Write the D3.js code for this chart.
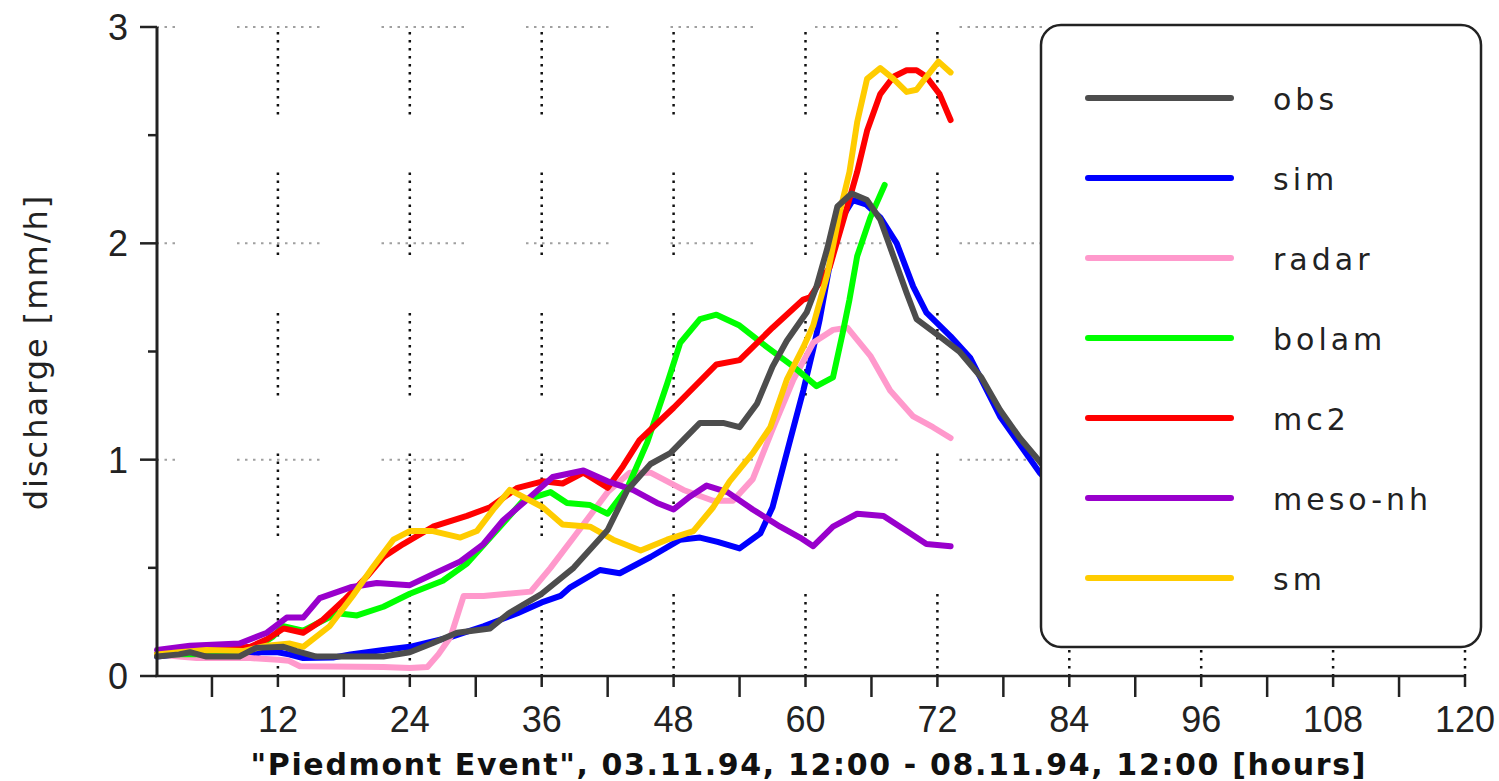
<!DOCTYPE html>
<html>
<head>
<meta charset="utf-8">
<script src="https://cdn.jsdelivr.net/npm/d3@7"></script>
<style>
  body { margin: 0; background: #fff; }
  svg { display: block; }
</style>
</head>
<body>
<div id="chart"></div>
<script>
// series: [hour, discharge mm/h]
const obs = [[1,0.09],[3,0.10],[4,0.11],[5.5,0.09],[8.5,0.09],[10,0.13],[12.5,0.135],[13.7,0.115],[15.5,0.09],[21.6,0.09],[24,0.11],[26,0.15],[28.3,0.2],[31.3,0.22],[33,0.29],[36,0.38],[38.9,0.5],[42,0.675],[43.8,0.86],[45.9,0.98],[47.7,1.03],[50.4,1.17],[52.5,1.17],[54,1.15],[55.6,1.26],[57,1.43],[58.3,1.55],[60.1,1.68],[61,1.8],[62,1.98],[62.9,2.17],[64.2,2.23],[65.6,2.2],[66.8,2.11],[68,1.94],[69.2,1.77],[70.1,1.65],[72.2,1.57],[74,1.5],[76,1.38],[77.7,1.23],[79.5,1.1],[81,1.01],[82,0.95],[84,0.85]]
const sim = [[1,0.09],[3,0.1],[5,0.09],[9,0.09],[10.5,0.11],[12,0.11],[13,0.1],[14.3,0.083],[17,0.085],[18.6,0.1],[21.6,0.12],[24,0.135],[27.7,0.18],[30.7,0.23],[33.8,0.29],[36,0.34],[37.7,0.37],[38.6,0.41],[41.3,0.49],[43.1,0.475],[45.9,0.55],[48.6,0.63],[50.4,0.64],[52,0.62],[54,0.59],[55.9,0.66],[57,0.78],[58.6,1.09],[59.8,1.32],[60.7,1.51],[61.3,1.65],[62.2,1.9],[63.1,2.1],[64.3,2.2],[65.5,2.18],[66.8,2.12],[68.3,2.0],[69.8,1.8],[71,1.68],[73.2,1.57],[75,1.47],[77.7,1.2],[79.5,1.07],[81.3,0.94],[84,0.8]]
const radar = [[1,0.1],[3,0.09],[4.6,0.083],[9.5,0.083],[12,0.075],[13,0.07],[14,0.045],[21.6,0.042],[24,0.037],[25.6,0.042],[26.6,0.1],[27.7,0.18],[28.9,0.37],[30.7,0.37],[35,0.39],[36.8,0.5],[38.9,0.64],[42,0.85],[44,0.94],[45.9,0.94],[48.9,0.86],[51.6,0.81],[53.4,0.81],[55.2,0.91],[57,1.14],[58.9,1.37],[60.7,1.54],[62.5,1.6],[63.8,1.61],[65.9,1.48],[67.7,1.32],[69.8,1.2],[71.6,1.15],[73.2,1.1]]
const bolam = [[1,0.1],[3,0.1],[5,0.1],[8,0.1],[10,0.13],[11.5,0.18],[12.5,0.23],[14.3,0.21],[17.4,0.29],[19.2,0.28],[21.6,0.32],[24,0.38],[27,0.44],[29.2,0.52],[32.2,0.69],[34.3,0.81],[36.8,0.85],[38.3,0.8],[40.4,0.79],[42,0.75],[43.8,0.87],[45.6,1.08],[47.4,1.35],[48.6,1.54],[50.4,1.65],[51.9,1.67],[54,1.62],[56.5,1.52],[58.9,1.43],[61,1.34],[62.5,1.38],[63.4,1.59],[64,1.74],[64.7,1.94],[65.9,2.12],[67.2,2.27]]
const mc2 = [[1,0.1],[3,0.11],[6,0.12],[9.5,0.135],[11,0.17],[12.5,0.22],[14.3,0.2],[16.1,0.26],[18,0.35],[20.1,0.46],[21.6,0.55],[23.4,0.61],[26.1,0.69],[29.2,0.74],[31.3,0.78],[33.8,0.87],[36.1,0.9],[37.9,0.89],[39.8,0.94],[42,0.87],[43.4,0.97],[44.9,1.09],[48,1.24],[51.9,1.44],[54,1.46],[57,1.61],[59.8,1.74],[60.4,1.75],[62.2,1.89],[63.8,2.17],[64.7,2.33],[65.6,2.52],[66.8,2.69],[68,2.77],[69.2,2.8],[70.1,2.8],[71,2.77],[72.2,2.69],[73.2,2.57]]
const mesonh = [[1,0.12],[4,0.14],[8.5,0.15],[11,0.2],[12.8,0.27],[14.3,0.27],[15.8,0.36],[18.6,0.41],[21,0.43],[24,0.42],[26.1,0.47],[28.6,0.53],[30.7,0.61],[32.5,0.72],[35,0.83],[37,0.92],[39.8,0.95],[42,0.9],[44.3,0.86],[46.5,0.8],[48,0.77],[49.5,0.83],[51,0.88],[52.9,0.85],[55.2,0.77],[57.7,0.69],[59.5,0.64],[60.7,0.6],[62.5,0.69],[64.7,0.75],[67.1,0.74],[69.2,0.67],[71,0.61],[73.2,0.6]]
const sm = [[1,0.1],[3,0.11],[5.5,0.12],[8.8,0.115],[11,0.14],[13.1,0.15],[14.3,0.135],[16.7,0.23],[18.8,0.37],[20.6,0.5],[22.5,0.63],[24,0.67],[26.1,0.67],[28.6,0.64],[30.1,0.67],[31.6,0.77],[33.1,0.86],[36.1,0.78],[37.9,0.7],[40.4,0.69],[42.5,0.63],[45,0.58],[47.4,0.63],[49.8,0.67],[51.6,0.78],[53.1,0.9],[55.2,1.03],[56.8,1.15],[58.3,1.37],[59.8,1.52],[60.7,1.62],[62,1.86],[63.1,2.14],[64,2.33],[64.7,2.56],[65.6,2.76],[66.8,2.81],[68,2.76],[69.2,2.7],[70.1,2.71],[71,2.77],[72.1,2.84],[73.2,2.79]]

const seriesNames = ["obs", "sim", "radar", "bolam", "mc2", "meso-nh", "sm"]
const seriesData = [obs, sim, radar, bolam, mc2, mesonh, sm]
const seriesColors = ["#4d4d4d", "#0000ff", "#ff99cc", "#00ff00", "#ff0000", "#9900cc", "#ffcc00"]
const drawOrder = [1, 2, 3, 4, 5, 6, 0] // obs on top

const xMajor = [12, 24, 36, 48, 60, 72, 84, 96, 108, 120]
const xMinor = [6, 18, 30, 42, 54, 66, 78, 90, 102, 114]
const yMajor = [0, 1, 2, 3]
const yMinor = [0.5, 1.5, 2.5]
const xTitle = '"Piedmont Event", 03.11.94, 12:00 - 08.11.94, 12:00 [hours]'
const yTitle = 'discharge [mm/h]'

const width = 1499, height = 781
const margin = { top: 27, right: 34, bottom: 105, left: 157 }

const svg = d3.select('#chart').append('svg')
  .attr('width', width)
  .attr('height', height)
  .style('background', '#fff')

const x = d3.scaleLinear().domain([1, 120]).range([margin.left, width - margin.right])
const y = d3.scaleLinear().domain([0, 3]).range([height - margin.bottom, margin.top])

// dotted grid with the aliased "segments" look of the original
function dotDash(onLen, period, step, dot) {
  const n = Math.floor(onLen / step)
  const arr = []
  for (let i = 0; i < n; i++) arr.push(dot, step - dot)
  arr.push(dot, period - n * step - dot)
  return arr.join(',')
}

const grid = svg.append('g')
grid.selectAll('.hgrid')
  .data(yMajor.slice(1))
  .join('line')
  .attr('x1', x(1)).attr('x2', x(120))
  .attr('y1', d => y(d)).attr('y2', d => y(d))
  .attr('stroke', '#a0a0a0')
  .attr('stroke-width', 2)
  .attr('stroke-dasharray', dotDash(82, 144.5, 8, 2.5))
  .attr('stroke-dashoffset', 64.5)

grid.selectAll('.vgrid')
  .data(xMajor)
  .join('line')
  .attr('x1', d => x(d)).attr('x2', d => x(d))
  .attr('y1', y(3) + 5).attr('y2', y(0))
  .attr('stroke', '#111')
  .attr('stroke-width', 2.5)
  .attr('stroke-dasharray', dotDash(81, 140.5, 8, 2.5))

// series
const line = d3.line().x(d => x(d[0])).y(d => y(d[1]))
svg.append('g')
  .selectAll('path')
  .data(drawOrder)
  .join('path')
  .attr('d', i => line(seriesData[i]))
  .attr('fill', 'none')
  .attr('stroke', i => seriesColors[i])
  .attr('stroke-width', 6)
  .attr('stroke-linejoin', 'round')
  .attr('stroke-linecap', 'round')

// axes
const axisColor = '#222'
const tickFont = '"Liberation Sans", Arial, sans-serif'

const xAxis = svg.append('g').attr('transform', `translate(0,${y(0)})`)
xAxis.append('line')
  .attr('x1', x(1) - 2).attr('x2', x(120))
  .attr('stroke', axisColor).attr('stroke-width', 2.5)
xAxis.selectAll('.xmin')
  .data(xMinor)
  .join('line')
  .attr('x1', d => x(d)).attr('x2', d => x(d))
  .attr('y1', 0).attr('y2', 21)
  .attr('stroke', axisColor).attr('stroke-width', 2.5)
xAxis.selectAll('.xmaj')
  .data(xMajor)
  .join('line')
  .attr('x1', d => x(d)).attr('x2', d => x(d))
  .attr('y1', 0).attr('y2', 11)
  .attr('stroke', axisColor).attr('stroke-width', 2.5)
xAxis.selectAll('text')
  .data(xMajor)
  .join('text')
  .attr('x', d => x(d))
  .attr('y', 56)
  .attr('text-anchor', 'middle')
  .style('font-family', tickFont)
  .style('font-size', '36px')
  .style('fill', '#222')
  .text(d => d)

const yAxis = svg.append('g').attr('transform', `translate(${x(1)},0)`)
yAxis.append('line')
  .attr('y1', y(3)).attr('y2', y(0))
  .attr('stroke', axisColor).attr('stroke-width', 3)
yAxis.selectAll('.ymaj')
  .data(yMajor)
  .join('line')
  .attr('x1', -17).attr('x2', 0)
  .attr('y1', d => y(d)).attr('y2', d => y(d))
  .attr('stroke', axisColor).attr('stroke-width', 2.5)
yAxis.selectAll('.ymin')
  .data(yMinor)
  .join('line')
  .attr('x1', -9).attr('x2', 0)
  .attr('y1', d => y(d)).attr('y2', d => y(d))
  .attr('stroke', axisColor).attr('stroke-width', 2.5)
yAxis.selectAll('text')
  .data(yMajor)
  .join('text')
  .attr('x', -29)
  .attr('y', d => y(d))
  .attr('dy', '0.36em')
  .attr('text-anchor', 'end')
  .style('font-family', tickFont)
  .style('font-size', '36px')
  .style('fill', '#222')
  .text(d => d)

// titles
svg.append('text')
  .attr('x', 808)
  .attr('y', 775)
  .attr('text-anchor', 'middle')
  .attr('textLength', 1115)
  .attr('lengthAdjust', 'spacing')
  .style('font-family', '"DejaVu Sans", sans-serif')
  .style('font-weight', 'bold')
  .style('font-size', '30px')
  .style('fill', '#111')
  .text(xTitle)

svg.append('text')
  .attr('transform', 'translate(47,352) rotate(-90)')
  .attr('text-anchor', 'middle')
  .style('font-family', '"DejaVu Sans", sans-serif')
  .style('font-size', '32px')
  .style('letter-spacing', '2px')
  .style('fill', '#222')
  .text(yTitle)

// legend
const legend = svg.append('g').attr('transform', 'translate(1041,25)')
legend.append('rect')
  .attr('width', 440).attr('height', 622)
  .attr('rx', 20).attr('ry', 20)
  .attr('fill', '#fff')
  .attr('stroke', '#222').attr('stroke-width', 2.5)

const rows = legend.selectAll('.row')
  .data(seriesNames)
  .join('g')
  .attr('transform', (d, i) => `translate(0,${73 + i * 80})`)
rows.append('line')
  .attr('x1', 47).attr('x2', 190)
  .attr('stroke', (d, i) => seriesColors[i])
  .attr('stroke-width', 6)
  .attr('stroke-linecap', 'round')
rows.append('text')
  .attr('x', 232)
  .attr('y', 12)
  .style('font-family', '"DejaVu Sans", sans-serif')
  .style('font-size', '30px')
  .style('letter-spacing', '4px')
  .style('fill', '#222')
  .text(d => d)
</script>
</body>
</html>
